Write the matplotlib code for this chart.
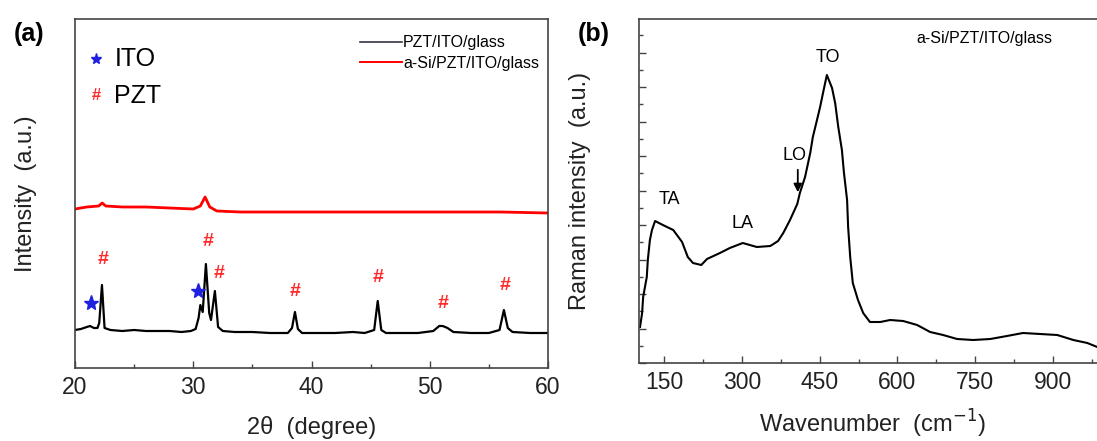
import matplotlib
matplotlib.use("Agg")
import matplotlib.pyplot as plt
from matplotlib.ticker import MultipleLocator, NullFormatter

plt.rcParams["font.family"] = ["Liberation Sans", "DejaVu Sans"]

# (a) XRD
xrd_2theta = [20.0, 20.5, 21.0, 21.27, 21.6, 21.9, 22.05, 22.28, 22.5, 23.0, 24.0, 25.0,
              26.0, 27.0, 28.0, 29.0, 29.8, 30.2, 30.45, 30.6, 30.8, 31.07, 31.35, 31.5,
              31.83, 32.1, 32.5, 33.5, 35.0, 36.5, 38.0, 38.35, 38.6, 38.85, 39.2, 40.5,
              42.0, 43.5, 44.5, 45.3, 45.6, 45.9, 46.3, 47.5, 49.0, 50.3, 50.8, 51.1,
              51.5, 52.0, 53.5, 55.0, 55.9, 56.27, 56.6, 57.0, 58.5, 60.0]
pzt_ito = [38, 39, 41, 42, 40, 40, 45, 83, 40, 38, 37, 38,
           37, 37, 37, 36, 37, 39, 50, 63, 56, 104, 55, 48,
           77, 41, 37, 36, 36, 35, 35, 40, 56, 39, 35, 35,
           35, 36, 35, 38, 67, 38, 35, 35, 35, 37, 42, 42,
           40, 36, 35, 35, 38, 58, 40, 36, 35, 35]

asi_2theta = [20.0, 21.0, 22.0, 22.3, 22.6, 24.0, 26.0, 28.0, 30.0, 30.6, 31.0, 31.4,
              32.0, 34.0, 37.0, 40.0, 44.0, 48.0, 52.0, 56.0, 60.0]
asi_pzt_ito = [159, 161, 162, 165, 162, 161, 161, 160, 159, 162, 171, 161,
               157, 156, 156, 156, 156, 156, 156, 156, 155]

ito_x = [21.35, 30.4]
ito_y = [65, 77]
pzt_x = [22.35, 31.25, 32.2, 38.6, 45.6, 51.1, 56.4]
pzt_y = [108, 127, 94, 76, 91, 65, 82]

# (b) Raman
wavenumber = [104, 108, 110, 117, 119, 123, 127, 133, 148, 168, 185, 196, 206, 222,
              233, 258, 277, 302, 329, 355, 370, 380, 393, 407, 412, 422, 432, 437,
              445, 451, 457, 464, 474, 480, 486, 493, 497, 503, 505, 509, 514, 524,
              534, 547, 567, 586, 611, 638, 663, 688, 715, 746, 779, 811, 842, 875,
              908, 939, 966, 985]
raman = [36, 50, 66, 86, 103, 123, 133, 142, 138, 133, 121, 106, 100, 98,
         104, 110, 115, 120, 116, 117, 122, 130, 143, 159, 170, 186, 210, 226,
         243, 256, 271, 288, 275, 260, 236, 213, 190, 163, 136, 106, 80, 63,
         50, 41, 41, 43, 42, 38, 31, 28, 24, 23, 24, 27, 30, 29,
         28, 23, 20, 16]

W, H = 1097, 441
fig = plt.figure(figsize=(W / 100, H / 100), dpi=100)

spine_col = "#444444"
hash_col = "#ff2a2a"
star_col = "#2020e0"


def frame(ax):
    for s in ax.spines.values():
        s.set_color(spine_col)
        s.set_linewidth(1.2)
    ax.tick_params(which="both", direction="in", colors=spine_col, labelcolor="#222222")
    ax.tick_params(which="major", length=5, width=1, labelsize=16.5, pad=6)
    ax.tick_params(which="minor", length=3, width=1)


# panel (a)
ax1 = fig.add_axes([75 / W, (H - 368) / H, (548 - 75) / W, (368 - 19) / H])
ax1.plot(xrd_2theta, pzt_ito, color="black", lw=1.6, label="PZT/ITO/glass")
ax1.plot(asi_2theta, asi_pzt_ito, color="red", lw=2, label="a-Si/PZT/ITO/glass")
ax1.plot(ito_x, ito_y, "*", color=star_col, ms=11, ls="none")
for x, y in zip(pzt_x, pzt_y):
    ax1.text(x, y, "#", color=hash_col, fontsize=14, fontweight="bold",
             ha="center", va="center")
ax1.set_xlim(20, 60)
ax1.set_ylim(0, 349)
ax1.xaxis.set_major_locator(MultipleLocator(10))
ax1.xaxis.set_minor_locator(MultipleLocator(5))
ax1.set_yticks([])
frame(ax1)
ax1.set_xlabel("2θ  (degree)", fontsize=17, color="#222222", labelpad=12)
ax1.set_ylabel("Intensity  (a.u.)", fontsize=17, color="#222222")
ax1.yaxis.set_label_coords(-0.08, 0.5)
leg = ax1.legend(loc="upper right", bbox_to_anchor=(1.005, 0.985), frameon=False,
                 fontsize=11.5, handlelength=2.6, handletextpad=0.1, labelspacing=0.35,
                 borderaxespad=0.3)
leg.get_lines()[0].set_color("#333344")
leg.get_lines()[0].set_linewidth(1.2)
leg.get_lines()[1].set_linewidth(1.4)
ax1.plot([0.045], [0.885], "*", color=star_col, ms=8, transform=ax1.transAxes)
ax1.text(0.083, 0.885, "ITO", fontsize=18, va="center", transform=ax1.transAxes)
ax1.text(0.045, 0.78, "#", color=hash_col, fontsize=12, fontweight="bold",
         ha="center", va="center", transform=ax1.transAxes)
ax1.text(0.083, 0.78, "PZT", fontsize=18, va="center", transform=ax1.transAxes)
fig.text(14 / W, 1 - 34 / H, "(a)", fontsize=18, fontweight="bold", va="center")

# panel (b)
ax2 = fig.add_axes([639 / W, (H - 363) / H, (1105 - 639) / W, (363 - 19) / H])
ax2.plot(wavenumber, raman, color="black", lw=1.5)
ax2.set_xlim(102, 1000)
ax2.set_ylim(0, 344)
ax2.xaxis.set_major_locator(MultipleLocator(150))
ax2.xaxis.set_minor_locator(MultipleLocator(75))
ax2.yaxis.set_major_locator(MultipleLocator(34.5))
ax2.yaxis.set_minor_locator(MultipleLocator(17.25))
ax2.yaxis.set_major_formatter(NullFormatter())
frame(ax2)
ax2.set_xlabel("Wavenumber  (cm$^{\\mathsf{-1}}$)", fontsize=17, color="#222222", labelpad=10)
ax2.set_ylabel("Raman intensity  (a.u.)", fontsize=17, color="#222222")
ax2.yaxis.set_label_coords(-0.103, 0.5)
ax2.text(466, 305, "TO", fontsize=13, ha="center", va="center")
ax2.text(402, 208, "LO", fontsize=13, ha="center", va="center")
ax2.annotate("", xy=(408, 168), xytext=(408, 196),
             arrowprops=dict(arrowstyle="-|>", color="black", lw=1.3, mutation_scale=12))
ax2.text(160, 163, "TA", fontsize=13, ha="center", va="center")
ax2.text(302, 140, "LA", fontsize=13, ha="center", va="center")
ax2.text(0.595, 0.965, "a-Si/PZT/ITO/glass", fontsize=11.5, ha="left", va="top",
         transform=ax2.transAxes)
fig.text(578 / W, 1 - 34 / H, "(b)", fontsize=18, fontweight="bold", va="center")

fig.savefig("out.png", dpi=100)
